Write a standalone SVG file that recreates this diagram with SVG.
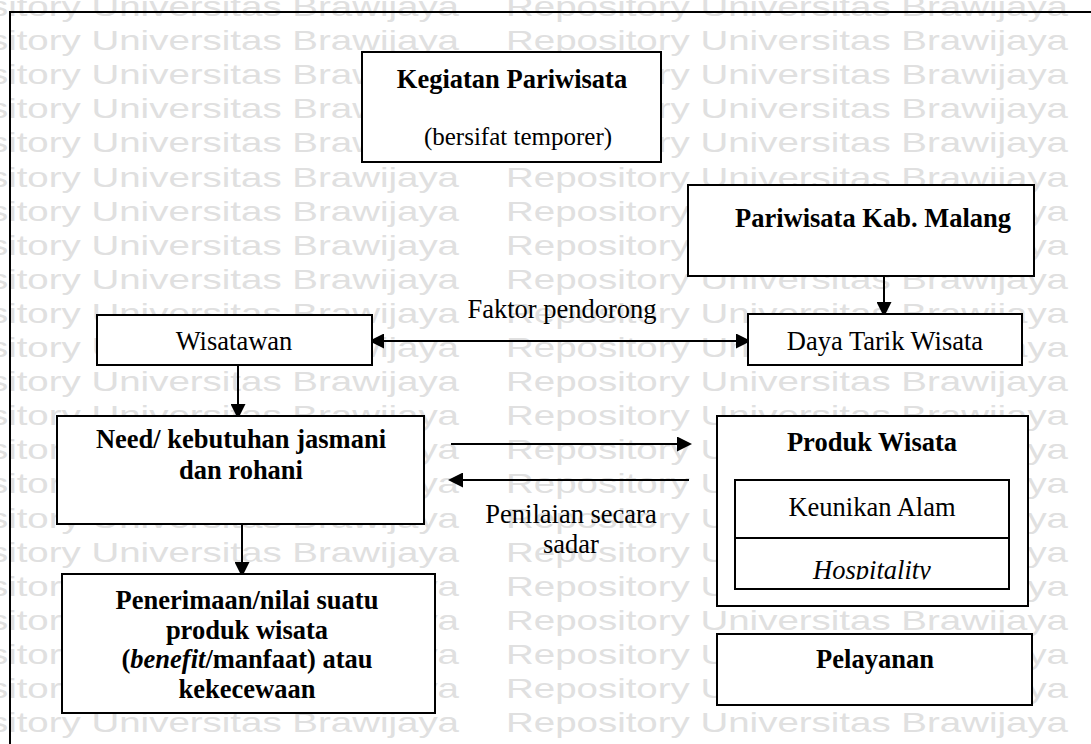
<svg xmlns="http://www.w3.org/2000/svg" xmlns:xlink="http://www.w3.org/1999/xlink" width="1091" height="744" viewBox="0 0 1091 744">
  <style>
    .wm { font-family: "Liberation Sans", Arial, sans-serif; font-size: 28px; fill: #e0e0e0; }
    .box { fill: #ffffff; stroke: #000000; stroke-width: 2; }
    .frame { fill: none; stroke: #000000; stroke-width: 2; }
    .edge { fill: none; stroke: #000000; stroke-width: 2; }
    .t { font-family: "Liberation Serif", "Times New Roman", serif; font-size: 26.5px; fill: #000000; text-anchor: middle; }
    .b { font-weight: bold; }
    .i { font-style: italic; }
    .small { font-size: 25px; }
  </style>
  <defs>
    <marker id="head" viewBox="0 0 15 15" refX="11" refY="7.5" markerWidth="15" markerHeight="15" markerUnits="userSpaceOnUse" orient="auto-start-reverse">
      <path d="M0,0 L15,7.5 L0,15 Z" fill="#000000"/>
    </marker>
    <clipPath id="hospClip">
      <rect x="735" y="538" width="274" height="41.5"/>
    </clipPath>
    <g id="wmRow">
      <text class="wm" x="-103" textLength="562" lengthAdjust="spacingAndGlyphs">Repository Universitas Brawijaya</text>
      <text class="wm" x="506" textLength="562" lengthAdjust="spacingAndGlyphs">Repository Universitas Brawijaya</text>
    </g>
  </defs>

  <rect width="1091" height="744" fill="#ffffff"/>

  <!-- background watermark rows -->
  <g id="watermark">
    <use xlink:href="#wmRow" y="16"/>
    <use xlink:href="#wmRow" y="50.1"/>
    <use xlink:href="#wmRow" y="84.2"/>
    <use xlink:href="#wmRow" y="118.3"/>
    <use xlink:href="#wmRow" y="152.4"/>
    <use xlink:href="#wmRow" y="186.5"/>
    <use xlink:href="#wmRow" y="220.6"/>
    <use xlink:href="#wmRow" y="254.7"/>
    <use xlink:href="#wmRow" y="288.8"/>
    <use xlink:href="#wmRow" y="322.9"/>
    <use xlink:href="#wmRow" y="357"/>
    <use xlink:href="#wmRow" y="391.1"/>
    <use xlink:href="#wmRow" y="425.2"/>
    <use xlink:href="#wmRow" y="459.3"/>
    <use xlink:href="#wmRow" y="493.4"/>
    <use xlink:href="#wmRow" y="527.5"/>
    <use xlink:href="#wmRow" y="561.6"/>
    <use xlink:href="#wmRow" y="595.7"/>
    <use xlink:href="#wmRow" y="629.8"/>
    <use xlink:href="#wmRow" y="663.9"/>
    <use xlink:href="#wmRow" y="698"/>
    <use xlink:href="#wmRow" y="732.1"/>
  </g>

  <!-- outer frame (top and left edges) -->
  <path class="frame" d="M10,744 V12 H1091"/>

  <!-- connectors -->
  <g id="connectors">
    <line class="edge" x1="373" y1="341" x2="747" y2="341" marker-start="url(#head)" marker-end="url(#head)"/>
    <line class="edge" x1="884" y1="276" x2="884" y2="313" marker-end="url(#head)"/>
    <line class="edge" x1="238" y1="365" x2="238" y2="415" marker-end="url(#head)"/>
    <line class="edge" x1="242" y1="524" x2="242" y2="573" marker-end="url(#head)"/>
    <line class="edge" x1="451" y1="444" x2="688" y2="444" marker-end="url(#head)"/>
    <line class="edge" x1="689" y1="480" x2="452" y2="480" marker-end="url(#head)"/>
    <text class="t" x="562" y="318">Faktor pendorong</text>
    <text class="t" x="571" y="523">Penilaian secara</text>
    <text class="t" x="571" y="553">sadar</text>
  </g>

  <g id="kegiatan">
    <rect class="box" x="362" y="52" width="299" height="110"/>
    <text class="t b" x="512" y="88">Kegiatan Pariwisata</text>
    <text class="t small" x="518" y="145">(bersifat temporer)</text>
  </g>

  <g id="kab-malang">
    <rect class="box" x="688" y="185" width="346" height="91"/>
    <text class="t b" x="873" y="227">Pariwisata Kab. Malang</text>
  </g>

  <g id="wisatawan">
    <rect class="box" x="97" y="315" width="275" height="50"/>
    <text class="t" x="234" y="350">Wisatawan</text>
  </g>

  <g id="daya-tarik">
    <rect class="box" x="748" y="314" width="274" height="51"/>
    <text class="t" x="885" y="350">Daya Tarik Wisata</text>
  </g>

  <g id="need">
    <rect class="box" x="57" y="416" width="367" height="108"/>
    <text class="t b" x="241" y="448">Need/ kebutuhan jasmani</text>
    <text class="t b" x="241" y="479">dan rohani</text>
  </g>

  <g id="penerimaan">
    <rect class="box" x="62" y="574" width="373" height="139"/>
    <text class="t b" x="247" y="609">Penerimaan/nilai suatu</text>
    <text class="t b" x="247" y="639">produk wisata</text>
    <text class="t b" x="247" y="668">(<tspan class="i">benefit</tspan>/manfaat) atau</text>
    <text class="t b" x="247" y="698">kekecewaan</text>
  </g>

  <g id="produk-wisata">
    <rect class="box" x="717" y="416" width="311" height="190"/>
    <text class="t b" x="872" y="451">Produk Wisata</text>
    <rect class="box" x="735" y="480" width="274" height="109"/>
    <line class="edge" x1="735" y1="538" x2="1009" y2="538"/>
    <text class="t" x="872" y="516">Keunikan Alam</text>
    <text class="t i" x="872" y="578.5" clip-path="url(#hospClip)">Hospitality</text>
  </g>

  <g id="pelayanan">
    <rect class="box" x="717" y="634" width="315" height="71"/>
    <text class="t b" x="875" y="668">Pelayanan</text>
  </g>
</svg>
